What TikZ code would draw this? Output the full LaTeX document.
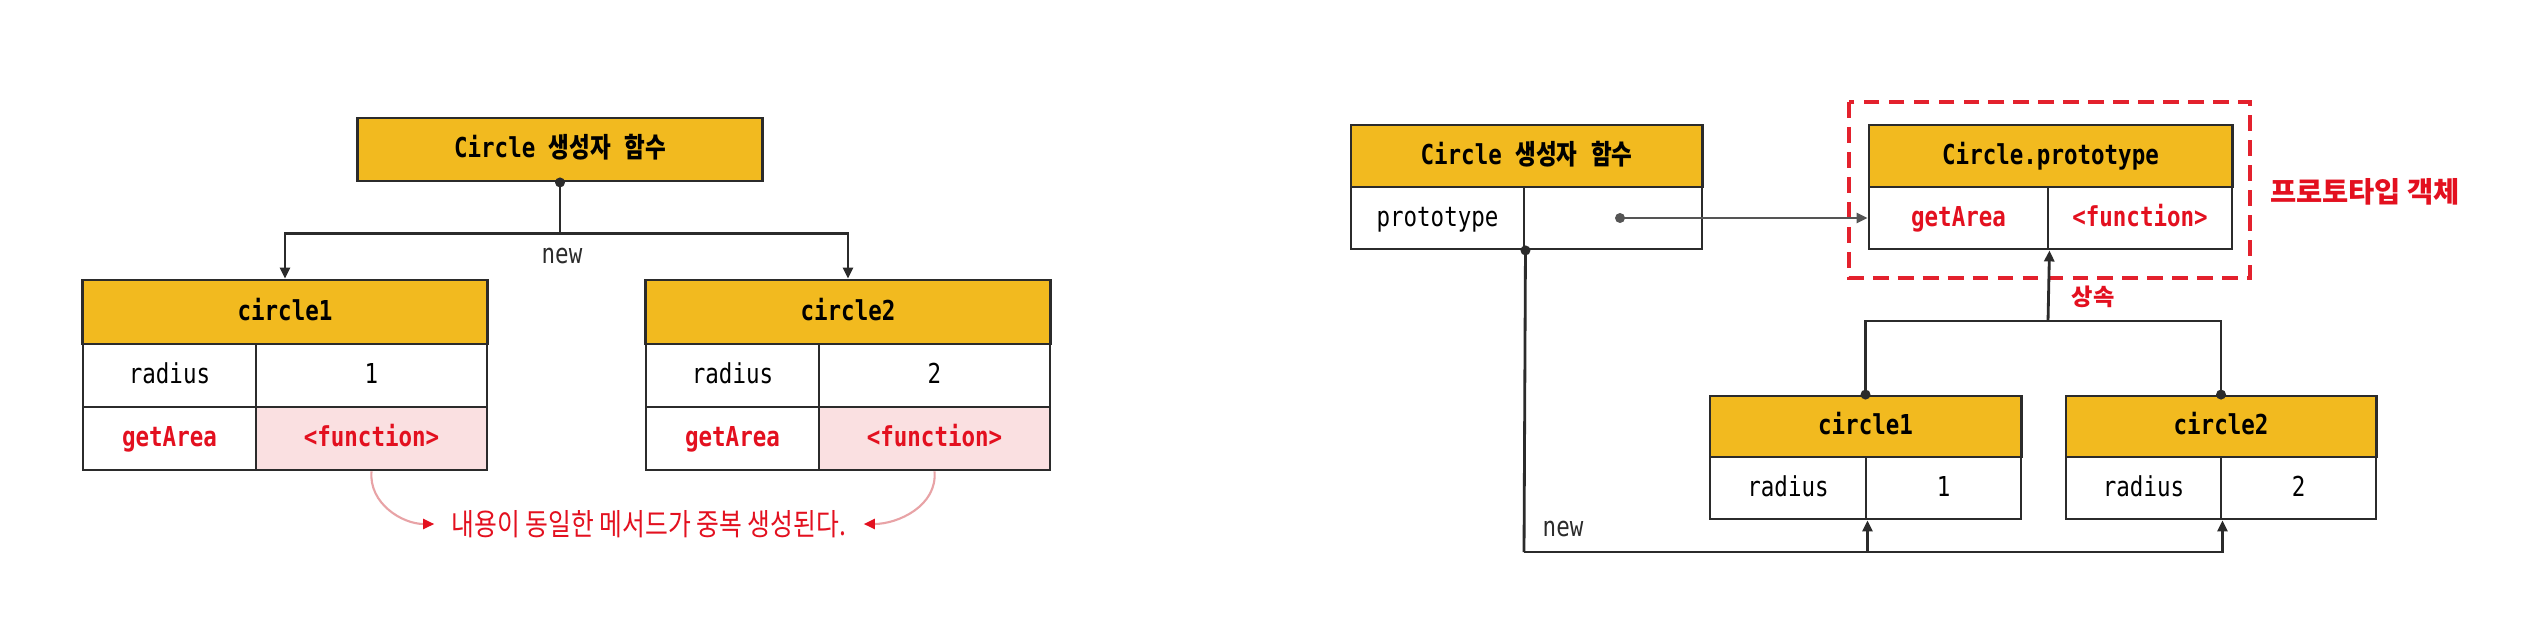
\documentclass[tikz,border=0pt]{standalone}
\usepackage{fontspec}
\usetikzlibrary{arrows.meta}
\newfontfamily\monof[FakeStretch=0.82]{DejaVu Sans Mono}
\newfontfamily\krf[FakeStretch=0.82]{Noto Sans CJK KR}
\newfontfamily\krn[FakeStretch=0.82]{Noto Sans CJK KR}
\newfontfamily\krl{Noto Sans CJK KR}
\definecolor{hdrc}{HTML}{F2BA1F}
\definecolor{pinkbg}{HTML}{FAE0E1}
\definecolor{redt}{HTML}{E3101F}
\definecolor{dashc}{HTML}{E3212D}
\definecolor{curvec}{HTML}{E8A3A6}
\definecolor{lc}{HTML}{2B2B2B}
\definecolor{gc}{HTML}{555555}
\tikzset{
  box/.style={draw=lc, line width=0.8pt, inner sep=0pt, fill=white,
    text height=1.55ex, text depth=0.45ex,
    font=\monof\fontsize{7.8}{9}\selectfont},
  hd/.style={box, fill=hdrc, font=\monof\bfseries\fontsize{7.8}{9}\selectfont},
  cellw/.style={box},
  cellr/.style={box, text=redt, font=\monof\bfseries\fontsize{7.8}{9}\selectfont},
  cellp/.style={cellr, fill=pinkbg},
  ln/.style={draw=lc, line width=0.8pt},
  gln/.style={draw=gc, line width=0.8pt},
  tip/.style={-{Triangle[length=0.11cm,width=0.1cm]}},
  lbl/.style={font=\monof\fontsize{7.8}{9}\selectfont, text=lc, inner sep=0pt},
  ann/.style={font=\krn\fontsize{8.6}{10}\selectfont, text=redt, inner ysep=0pt, inner xsep=0.17cm},
  curve/.style={draw=curvec, line width=0.6pt, -{Triangle[length=0.11cm,width=0.1cm,color=redt]}},
  redbig/.style={font=\krl\bfseries\fontsize{8.1}{9}\selectfont, text=redt, inner sep=0pt},
  redsmall/.style={font=\krl\bfseries\fontsize{6.6}{8}\selectfont, text=redt, inner sep=0pt},
  dotc/.style={fill=lc},
  dashbox/.style={draw=dashc, line width=1.1pt, dash pattern=on 4.5pt off 2.6pt}
}
\begin{document}
\begin{tikzpicture}[x=0.01cm,y=-0.01cm]
\fill[white] (0,0) rectangle (2546,633);
\useasboundingbox (0,0) rectangle (2546,633);

% ---------- left diagram ----------
\node[hd, minimum width=4.04cm, minimum height=0.63cm] (L) at (560,149.5) {Circle {\krf 생성자} {\krf 함수}};

\node[hd, minimum width=4.04cm, minimum height=0.64cm] (c1h) at (285,312) {circle1};
\node[cellw, minimum width=1.73cm, minimum height=0.63cm] (c1k1) at (169.5,375.5) {radius};
\node[cellw, minimum width=2.31cm, minimum height=0.63cm] (c1v1) at (371.5,375.5) {1};
\node[cellr, minimum width=1.73cm, minimum height=0.63cm] (c1k2) at (169.5,438.5) {getArea};
\node[cellp, minimum width=2.31cm, minimum height=0.63cm] (c1v2) at (371.5,438.5) {<function>};

\node[hd, minimum width=4.04cm, minimum height=0.64cm] (c2h) at (848,312) {circle2};
\node[cellw, minimum width=1.73cm, minimum height=0.63cm] (c2k1) at (732.5,375.5) {radius};
\node[cellw, minimum width=2.31cm, minimum height=0.63cm] (c2v1) at (934.5,375.5) {2};
\node[cellr, minimum width=1.73cm, minimum height=0.63cm] (c2k2) at (732.5,438.5) {getArea};
\node[cellp, minimum width=2.31cm, minimum height=0.63cm] (c2v2) at (934.5,438.5) {<function>};

\draw[ln] (L.south) -- ++(0,51) coordinate (jn);
\draw[ln,tip] (jn) -| (c1h.north);
\draw[ln,tip] (jn) -| (c2h.north);
\fill[dotc] (L.south) circle[radius=0.05cm];
\node[lbl] (newL) at (562,256) {new};

\node[ann] (annot) at (649,524) {내용이 동일한 메서드가 중복 생성된다.};
\draw[curve] (c1v2.south) to[out=-95,in=180] (annot.west);
\draw[curve] (c2v2.south) to[out=-85,in=0] (annot.east);

% ---------- right diagram ----------
\node[hd, minimum width=3.51cm, minimum height=0.62cm] (C) at (1526.5,156) {Circle {\krf 생성자} {\krf 함수}};
\node[cellw, minimum width=1.73cm, minimum height=0.62cm] (Ck) at (1437.5,218) {prototype};
\node[cellw, minimum width=1.78cm, minimum height=0.62cm] (Cv) at (1613,218) {};

\node[hd, minimum width=3.63cm, minimum height=0.62cm] (P) at (2050.5,156) {Circle.prototype};
\node[cellr, minimum width=1.79cm, minimum height=0.62cm] (Pk) at (1958.5,218) {getArea};
\node[cellr, minimum width=1.84cm, minimum height=0.62cm] (Pv) at (2140,218) {<function>};

\draw[dashbox] (1849,102) rectangle (2250,278);
\node[redbig] (plbl) at (2365,192) {프로토타입 객체};

\node[hd, minimum width=3.11cm, minimum height=0.61cm] (R1h) at (1865.5,426.5) {circle1};
\node[cellw, minimum width=1.56cm, minimum height=0.62cm] (R1k) at (1788,488) {radius};
\node[cellw, minimum width=1.55cm, minimum height=0.62cm] (R1v) at (1943.5,488) {1};

\node[hd, minimum width=3.10cm, minimum height=0.61cm] (R2h) at (2221,426.5) {circle2};
\node[cellw, minimum width=1.55cm, minimum height=0.62cm] (R2k) at (2143.5,488) {radius};
\node[cellw, minimum width=1.55cm, minimum height=0.62cm] (R2v) at (2298.5,488) {2};

% prototype link
\coordinate (pd) at (1620,218);
\draw[gln,tip] (pd) -- (Pk.west);
\fill[gc] (pd) circle[radius=0.05cm];

% inheritance
\coordinate (ih) at (2048,321);
\draw[ln] (R1h.north) |- (ih) -| (R2h.north);
\draw[ln,tip] (ih) -- (Pk.south east);
\fill[dotc] (R1h.north) circle[radius=0.05cm];
\fill[dotc] (R2h.north) circle[radius=0.05cm];
\node[redsmall] (inh) at (2093,297) {상속};

% new
\coordinate (nb) at (1524,552);
\draw[ln] (Ck.south east) -- (nb);
\draw[ln,tip] (nb) -| (R1k.south east);
\draw[ln,tip] (nb) -| (R2k.south east);
\fill[dotc] (Ck.south east) circle[radius=0.05cm];
\node[lbl] (newR) at (1563,529) {new};
\end{tikzpicture}
\end{document}
